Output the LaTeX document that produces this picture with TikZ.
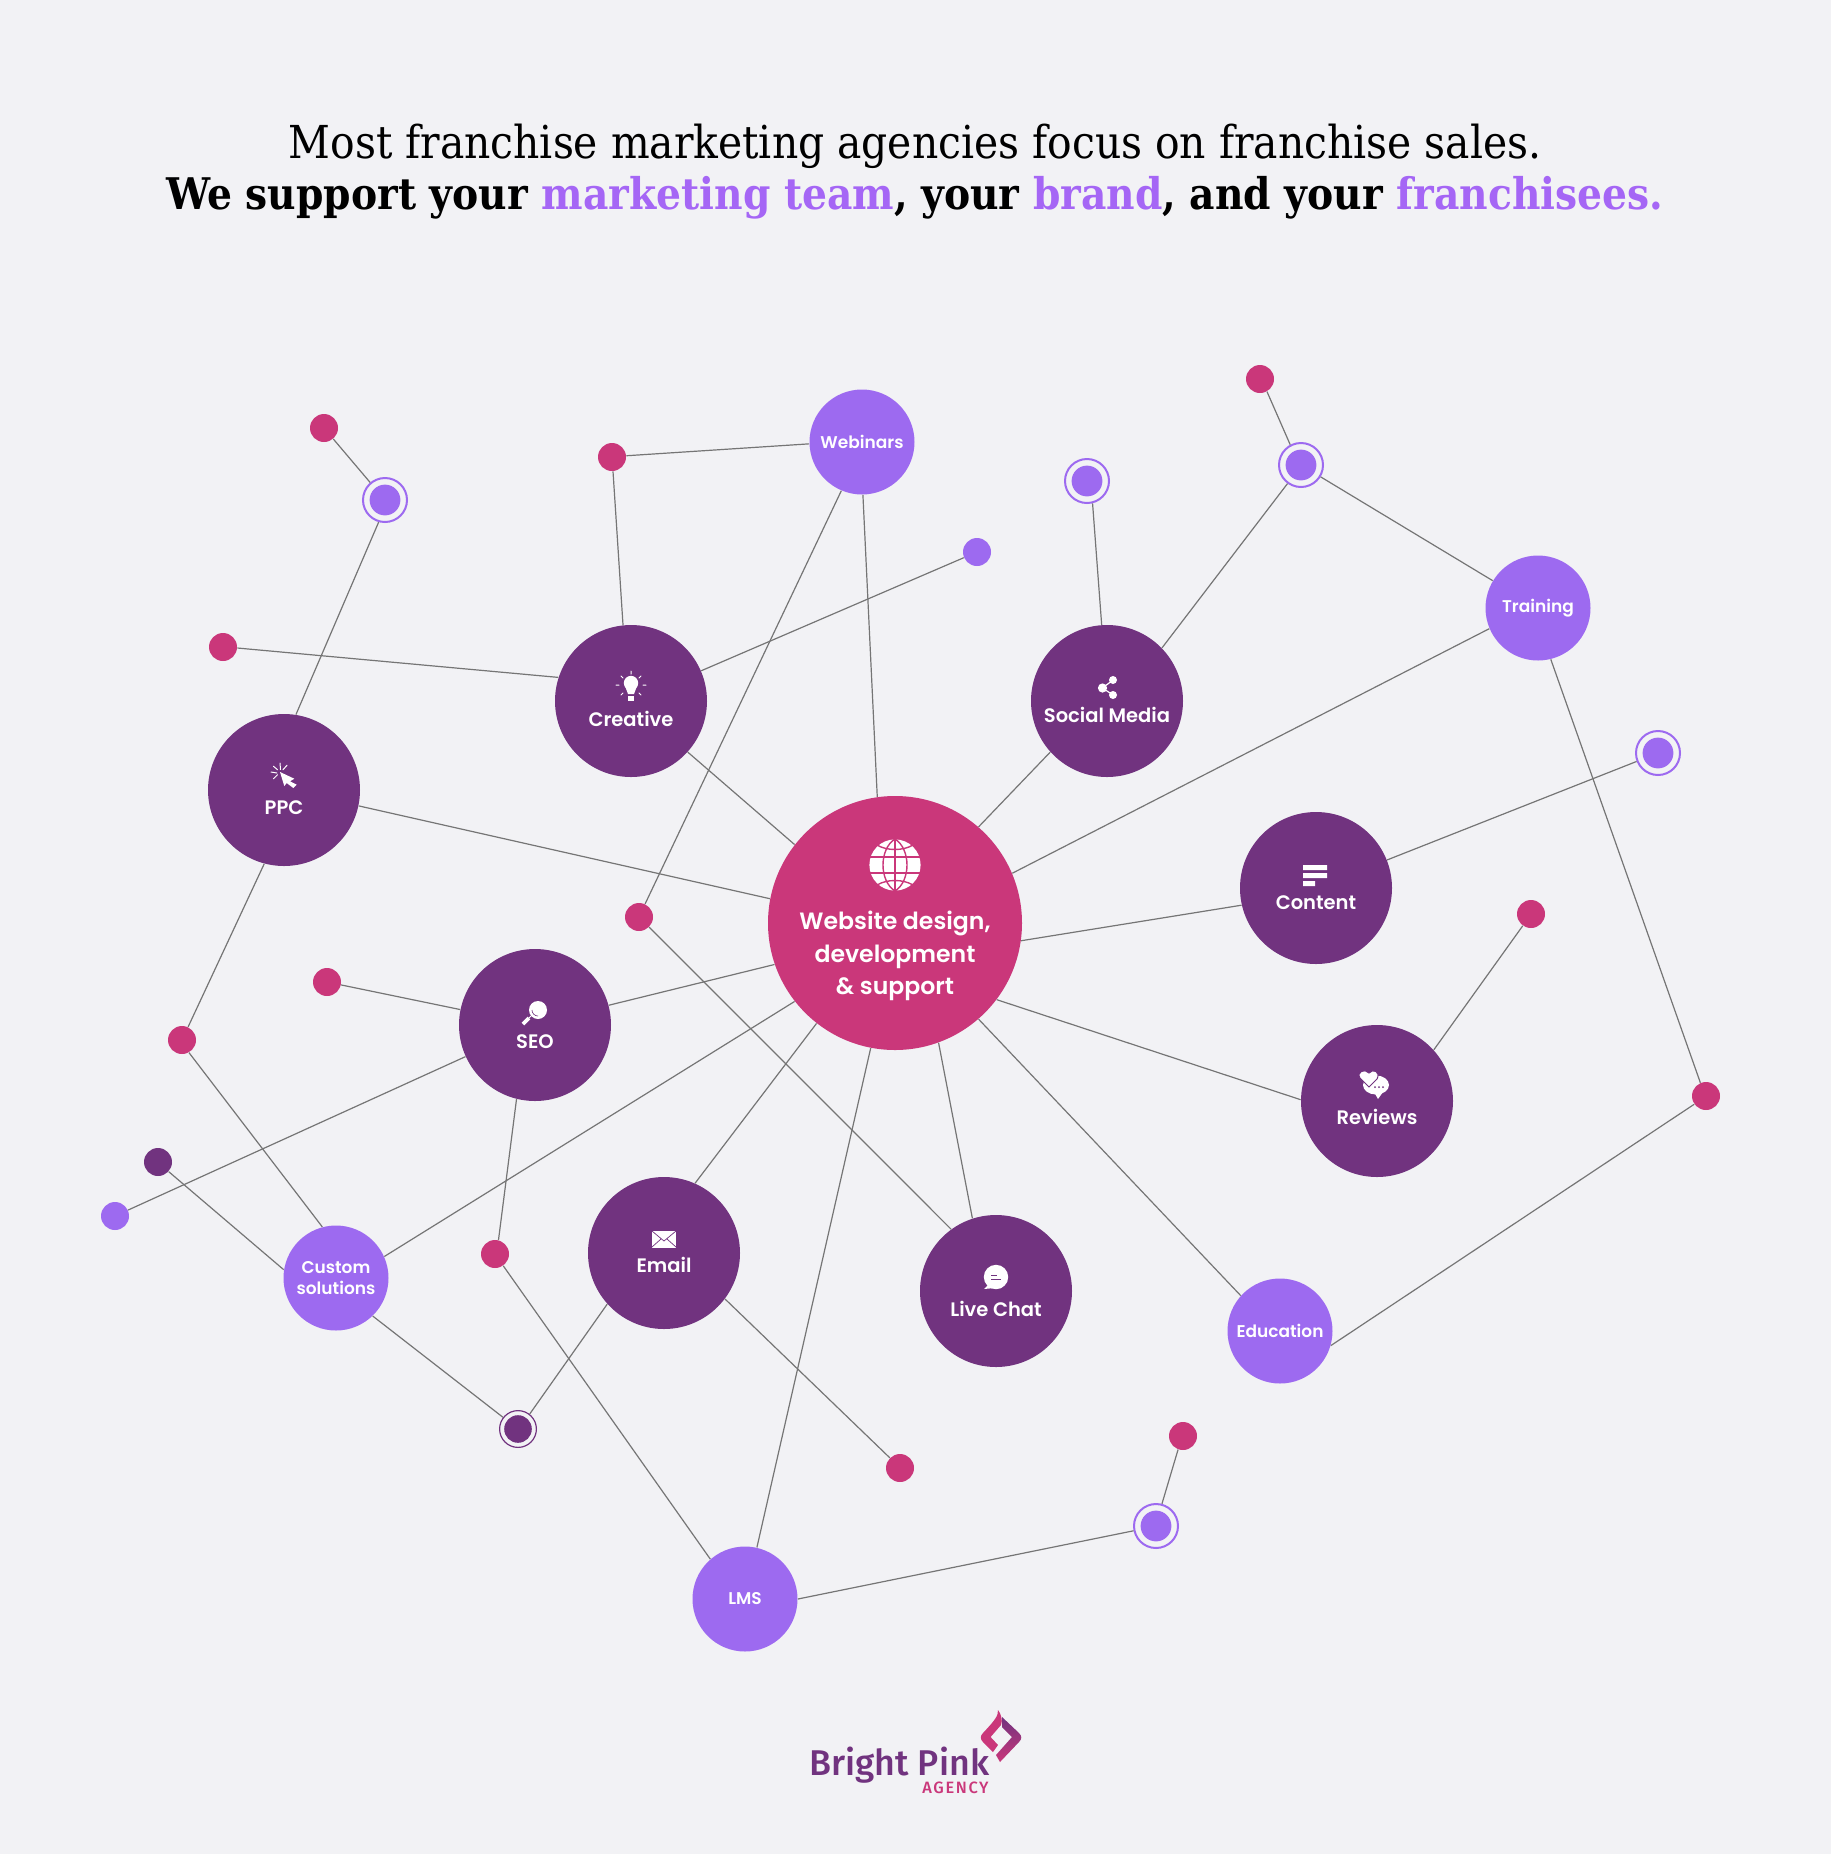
\documentclass[tikz,border=0pt]{standalone}
\usepackage{fontspec}
\setmainfont{DejaVu Serif Condensed}
\setsansfont{Poppins}[BoldFont={Poppins SemiBold}]
\definecolor{pagebg}{HTML}{F2F2F5}
\definecolor{plum}{HTML}{71337F}
\definecolor{rosepink}{HTML}{CA377A}
\definecolor{lilac}{HTML}{9D6AF0}
\definecolor{titlelilac}{HTML}{A566F5}
\definecolor{wire}{HTML}{757575}
\begin{document}
\begin{tikzpicture}[x=0.5pt,y=-0.5pt]
	\tikzset{
		hub/.style={circle, fill=rosepink, minimum size=127pt, inner sep=0pt, text=white, font=\sffamily\bfseries\fontsize{11.8}{14}\selectfont},
		topic/.style={circle, fill=plum, minimum size=76pt, inner sep=0pt, text=white, font=\sffamily\bfseries\fontsize{9.75}{11}\selectfont},
		extra/.style={circle, fill=lilac, minimum size=52.5pt, inner sep=0pt, text=white, align=center, font=\sffamily\bfseries\fontsize{8.5}{10.5}\selectfont},
		pinkdot/.style={circle, fill=rosepink, minimum size=14pt, inner sep=0pt},
		lilacdot/.style={circle, fill=lilac, minimum size=14pt, inner sep=0pt},
		plumdot/.style={circle, fill=plum, minimum size=14pt, inner sep=0pt},
		lilacring/.style={circle, draw=lilac, line width=1pt, fill=pagebg, minimum size=22pt, inner sep=0pt, path picture={\fill[lilac] (path picture bounding box.center) circle (7.7pt);}},
		plumring/.style={circle, draw=plum, line width=0.6pt, fill=pagebg, minimum size=18.4pt, inner sep=0pt, path picture={\fill[plum] (path picture bounding box.center) circle (6.9pt);}},
		wirestyle/.style={draw=wire, line width=0.6pt},
		icon/.style={fill=white, draw=none},
		iconline/.style={draw=white, line width=0.5pt, line cap=round}
	}
	\fill[pagebg] (0,0) rectangle (1831,1854);

	\node[font=\fontsize{22.7}{26}\selectfont] (titleone) at (915,146) {Most franchise marketing agencies focus on franchise sales.};
	\node[font=\bfseries\fontsize{21.8}{26}\selectfont] (titletwo) at (915,198) {We support your \textcolor{titlelilac}{marketing team}, your \textcolor{titlelilac}{brand}, and your \textcolor{titlelilac}{franchisees.}};

	% big circles, text hangs below the middle to leave room for the icon
	\node[hub] (website) at (895,923) {\raisebox{-19.7pt}[0pt][0pt]{\begin{tabular}{@{}c@{}}Website design,\\[2.2pt]development\\[2.2pt]\& support\end{tabular}}};

	\node[topic] (ppc) at (284,790) {\raisebox{-12pt}[0pt][0pt]{PPC}};
	\node[topic] (creative) at (631,701) {\raisebox{-12.5pt}[0pt][0pt]{Creative}};
	\node[topic] (social) at (1107,701) {\raisebox{-10.5pt}[0pt][0pt]{Social Media}};
	\node[topic] (content) at (1316,888) {\raisebox{-10.5pt}[0pt][0pt]{Content}};
	\node[topic] (reviews) at (1377,1101) {\raisebox{-11.5pt}[0pt][0pt]{Reviews}};
	\node[topic] (seo) at (535,1025) {\raisebox{-11.5pt}[0pt][0pt]{SEO}};
	\node[topic] (email) at (664,1253) {\raisebox{-9.5pt}[0pt][0pt]{Email}};
	\node[topic] (livechat) at (996,1291) {\raisebox{-12.5pt}[0pt][0pt]{Live Chat}};

	\node[extra] (webinars) at (862,442) {Webinars};
	\node[extra] (training) at (1538,608) {Training};
	\node[extra] (custom) at (336,1278) {Custom\\solutions};
	\node[extra] (education) at (1280,1331) {Education};
	\node[extra] (lms) at (745,1599) {LMS};

	\node[pinkdot] (dotppctop) at (324,428) {};
	\node[lilacring] (ringppc) at (385,500) {};
	\node[pinkdot] (dotwebinars) at (612,457) {};
	\node[pinkdot] (dotcreative) at (223,647) {};
	\node[lilacdot] (dotlilactop) at (977,552) {};
	\node[lilacring] (ringsocial) at (1087,481) {};
	\node[pinkdot] (dottop) at (1260,379) {};
	\node[lilacring] (ringtraining) at (1301,465) {};
	\node[lilacring] (ringcontent) at (1658,753) {};
	\node[pinkdot] (dotreviews) at (1531,914) {};
	\node[pinkdot] (dotright) at (1706,1096) {};
	\node[pinkdot] (dotmiddle) at (639,917) {};
	\node[pinkdot] (dotseo) at (327,982) {};
	\node[pinkdot] (dotppcbottom) at (182,1040) {};
	\node[plumdot] (dotcustom) at (158,1162) {};
	\node[lilacdot] (dotleft) at (115,1216) {};
	\node[pinkdot] (dotseobottom) at (495,1254) {};
	\node[plumring] (ringemail) at (518,1429) {};
	\node[pinkdot] (dotemail) at (900,1468) {};
	\node[pinkdot] (dotlms) at (1183,1436) {};
	\node[lilacring] (ringlms) at (1156,1526) {};

	\draw[wirestyle] (website.169) -- (ppc.-12);
	\draw[wirestyle] (website.142) -- (creative.-42);
	\draw[wirestyle] (website.98) -- (webinars.-89);
	\draw[wirestyle] (website.49) -- (social.222);
	\draw[wirestyle] (website.23) -- (training.203);
	\draw[wirestyle] (website.-8) -- (content.193);
	\draw[wirestyle] (website.-37) -- (reviews.179);
	\draw[wirestyle] (website.-49) -- (education.138);
	\draw[wirestyle] (website.-70) -- (livechat.108);
	\draw[wirestyle] (website.-101) -- (lms.77);
	\draw[wirestyle] (website.-128) -- (email.66);
	\draw[wirestyle] (website.218) -- (custom.24);
	\draw[wirestyle] (website.199) -- (seo.15);

	\draw[wirestyle] (dotppctop) -- (ringppc);
	\draw[wirestyle] (ringppc.254) -- (ppc.81);
	\draw[wirestyle] (ppc.255) -- (dotppcbottom.65);
	\draw[wirestyle] (dotppcbottom.-61) -- (custom.105);
	\draw[wirestyle] (webinars.182) -- (dotwebinars.5);
	\draw[wirestyle] (dotwebinars.-86) -- (creative.96);
	\draw[wirestyle] (dotcreative.-4) -- (creative.162);
	\draw[wirestyle] (creative) -- (dotlilactop);
	\draw[wirestyle] (webinars.247) -- (dotmiddle.65);
	\draw[wirestyle] (dotmiddle.-45) -- (livechat.126);
	\draw[wirestyle] (social.94) -- (ringsocial.-76);
	\draw[wirestyle] (social.44) -- (ringtraining.234);
	\draw[wirestyle] (ringtraining.118) -- (dottop.-61);
	\draw[wirestyle] (ringtraining) -- (training);
	\draw[wirestyle] (training.-76) -- (dotright.113);
	\draw[wirestyle] (dotright.215) -- (education.-16);
	\draw[wirestyle] (content) -- (ringcontent);
	\draw[wirestyle] (reviews.42) -- (dotreviews.235);
	\draw[wirestyle] (seo) -- (dotseo);
	\draw[wirestyle] (seo) -- (dotleft);
	\draw[wirestyle] (seo.256) -- (dotseobottom.76);
	\draw[wirestyle] (dotseobottom.-55) -- (lms.131);
	\draw[wirestyle] (lms.0) -- (ringlms.192);
	\draw[wirestyle] (ringlms.75) -- (dotlms.250);
	\draw[wirestyle] (email.222) -- (ringemail.52);
	\draw[wirestyle] (email.-37) -- (dotemail.135);
	\draw[wirestyle] (custom.-46) -- (ringemail.142);
	\draw[wirestyle] (custom.171) -- (dotcustom.-42);

	% globe
	\begin{scope}[shift={(895,865)}]
		\fill[white] (0,0) circle (12.8pt);
		\draw[rosepink, line width=0.7pt] (-26,-8) -- (26,-8) (-26,8) -- (26,8) (0,-26) -- (0,26);
		\draw[rosepink, line width=0.7pt] (0,-26) .. controls (-16,-16) and (-16,16) .. (0,26);
		\draw[rosepink, line width=0.7pt] (0,-26) .. controls (16,-16) and (16,16) .. (0,26);
		\draw[rosepink, line width=0.7pt] (-18,-20) .. controls (-8,-14) and (8,-14) .. (18,-20);
		\draw[rosepink, line width=0.7pt] (-18,20) .. controls (-8,14) and (8,14) .. (18,20);
	\end{scope}
	% lightbulb
	\begin{scope}[shift={(631,687)}]
		\fill[icon] (0,-4) circle (3.6pt);
		\fill[icon] (-6,-1) -- (6,-1) -- (3,7) -- (-3,7) -- cycle;
		\fill[icon] (-3,8.5) rectangle (3,14);
		\draw[iconline] (0,-16) -- (0,-13) (-10,-11) -- (-8,-9) (10,-11) -- (8,-9) (-15,-2) -- (-12,-2) (15,-2) -- (12,-2) (-10,8) -- (-8,6) (10,8) -- (8,6);
	\end{scope}
	% share
	\begin{scope}[shift={(1107,687)}]
		\draw[white, line width=0.6pt] (-4.5,1) -- (6,-7) (-4.5,1) -- (6,8);
		\fill[icon] (-4.5,1) circle (2.3pt) (6,-7) circle (2pt) (6,8) circle (2pt);
	\end{scope}
	% cursor
	\begin{scope}[shift={(280,772)}]
		\fill[icon] (0,0) -- (14.3,6.7) -- (10,9.3) -- (16.7,12.7) -- (13.3,16) -- (6.7,11) -- (4.3,14) -- cycle;
		\draw[iconline] (-9,0) -- (-3,1) (-6.5,-5.7) -- (-2.5,-2.3) (0,-9) -- (0.5,-2.5) (7,-6.7) -- (3,-2.3) (-6.5,6.7) -- (-2.5,2.7);
	\end{scope}
	% content lines
	\begin{scope}[shift={(1315,876)}]
		\fill[icon] (-12,-11) rectangle (12,-6) (-12,-3) rectangle (12,2) (-12,5) rectangle (0,10);
	\end{scope}
	% heart and speech bubble
	\begin{scope}[shift={(1376,1086)}]
		\fill[icon] (0,-1) ellipse (6.5pt and 4.75pt);
		\fill[icon] (-2,6) -- (7,6) -- (2,13) -- cycle;
		\filldraw[fill=white, draw=plum, line width=0.5pt] (-7,1) -- (-16,-8) .. controls (-20,-14) and (-11,-18) .. (-7,-13) .. controls (-3,-18) and (5,-14) .. (1,-7) -- cycle;
		\fill[plum] (-1,1) circle (0.5pt) (3,1) circle (0.5pt) (7,1) circle (0.5pt);
	\end{scope}
	% magnifier
	\begin{scope}[shift={(535,1013)}]
		\fill[icon] (3,-3) circle (4.5pt);
		\draw[plum, line width=0.3pt] (-3,-3) arc (180:90:6);
		\draw[white, line width=0.5pt] (-3,2) -- (-7,6);
		\draw[white, line width=1.8pt] (-6,5) -- (-12,11);
	\end{scope}
	% envelope
	\begin{scope}[shift={(664,1239)}]
		\fill[icon] (-12,-8.5) rectangle (12,8.5);
		\draw[plum, line width=0.35pt] (-12,-8) -- (0,2) -- (12,-8) (-12,8) -- (-3,0) (12,8) -- (3,0);
	\end{scope}
	% chat bubble
	\begin{scope}[shift={(996,1277)}]
		\fill[icon] (0,0) circle (6.1pt);
		\fill[icon] (-6,6) -- (-12,12) -- (-1,11) -- cycle;
		\draw[plum, line width=0.4pt] (-5,-2) -- (1,-2) (-5,2) -- (5,2);
	\end{scope}

	% logo
	\node[text=plum, anchor=base west, inner sep=0pt, font={\fontspec{Fira Sans Medium}\fontsize{17.9}{20}\selectfont}] (logoname) at (809,1775) {Bright Pink};
	\node[text=rosepink, anchor=base east, inner sep=0pt, font={\fontspec[LetterSpace=10]{Fira Sans Medium}\fontsize{8.2}{9}\selectfont}] (logoagency) at (989,1793) {AGENCY};
	\fill[rosepink] (998,1710) .. controls (998,1716) and (996,1719) .. (983,1733) .. controls (980,1736) and (980,1739) .. (983,1742) -- (993,1752) -- (998,1745) -- (990.6,1737) -- (1001,1725) .. controls (1003,1720) and (1001,1714) .. (998,1710) -- cycle;
	\shade[top color=plum, bottom color=rosepink] (1002,1717) -- (1019,1733) .. controls (1022,1736) and (1022,1739) .. (1019,1742) -- (1000,1762) -- (996,1755) -- (1012,1737) -- (1002,1727) -- cycle;
\end{tikzpicture}
\end{document}
